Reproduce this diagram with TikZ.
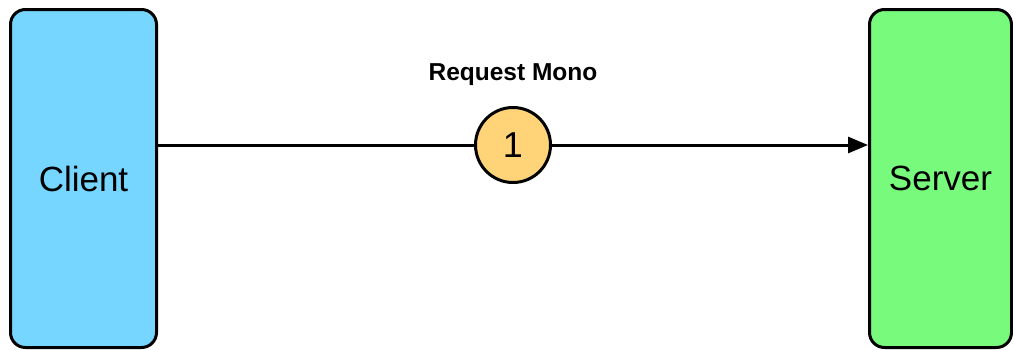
\documentclass[tikz,border=0pt]{standalone}
\usepackage{fontspec}
\setmainfont{Liberation Sans}
\usetikzlibrary{arrows.meta}
\definecolor{clientblue}{RGB}{118,214,255}
\definecolor{servergreen}{RGB}{120,250,124}
\definecolor{stepyellow}{RGB}{255,212,121}
\begin{document}
\begin{tikzpicture}[x=1pt,y=-1pt,
  party/.style={draw=black, line width=3pt, rounded corners=15pt,
    minimum width=146pt, minimum height=338pt, inner sep=0pt,
    font=\fontsize{35}{40}\selectfont},
  stepmark/.style={circle, draw=black, line width=3pt, fill=stepyellow,
    minimum size=75pt, inner sep=0pt, font=\fontsize{36}{40}\selectfont},
  flow/.style={line width=3pt, -{Triangle[length=20pt,width=16pt]}},
  caption/.style={font=\bfseries\fontsize{24.5}{29}\selectfont}]
  \useasboundingbox (0,0) rectangle (1013,349);
  \node[party, fill=clientblue] (client) at (83.5,178.5) {Client};
  \node[party, fill=servergreen, minimum width=142pt] (server) at (940.5,178.5) {Server};
  \coordinate (out) at (client.east |- 0,145);
  \coordinate (in) at (server.west |- 0,145);
  \draw[flow] (out) -- (in);
  \node[stepmark] (one) at (513,145) {1};
  \node[caption] (label) at (513,75) {Request Mono};
\end{tikzpicture}
\end{document}
